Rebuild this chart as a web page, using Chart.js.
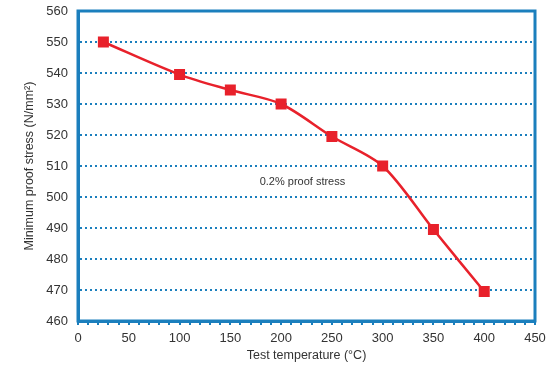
<!DOCTYPE html>
<html>
<head>
<meta charset="utf-8">
<script src="https://cdn.jsdelivr.net/npm/chart.js@4"></script>
<style>
  html, body { margin: 0; padding: 0; background: #fff; }
  #wrap { width: 558px; height: 367px; position: relative; }
</style>
</head>
<body>
<div id="wrap"><canvas id="c"></canvas></div>
<script>
/* ---- data ---- */
const temps  = [25, 100, 150, 200, 250, 300, 350, 400];
const stress = [550, 539.5, 534.5, 530, 519.5, 510, 489.5, 469.5];
const seriesLabel = '0.2% proof stress';
const xTitle = 'Test temperature (°C)';
const yTitle = 'Minimum proof stress (N/mm²)';
const labelAt = { x: 221, y: 505 };

const BLUE = '#1b7fbd';
const RED  = '#e8212b';
const TXT  = '#333333';

// box around the plot + the in-chart label
const frame = {
  id: 'frame',
  beforeDatasetsDraw(chart) {
    const { ctx, chartArea: a } = chart;
    ctx.save();
    ctx.strokeStyle = BLUE;
    ctx.lineWidth = 3;
    ctx.strokeRect(a.left, a.top, a.right - a.left, a.bottom - a.top);
    ctx.restore();
  },
  afterDatasetsDraw(chart) {
    const { ctx, scales } = chart;
    ctx.save();
    ctx.fillStyle = TXT;
    ctx.font = '11px "Liberation Sans", Arial, sans-serif';
    ctx.textAlign = 'center';
    ctx.textBaseline = 'middle';
    ctx.fillText(seriesLabel, scales.x.getPixelForValue(labelAt.x), scales.y.getPixelForValue(labelAt.y));
    ctx.restore();
  }
};

new Chart(document.getElementById('c'), {
  type: 'line',
  data: {
    datasets: [{
      label: seriesLabel,
      data: temps.map((t, i) => ({ x: t, y: stress[i] })),
      borderColor: RED,
      backgroundColor: RED,
      borderWidth: 2.5,
      pointStyle: 'rect',
      pointRadius: 6,
      pointHoverRadius: 6,
      tension: 0.3
    }]
  },
  options: {
    responsive: true,
    maintainAspectRatio: false,
    animation: false,
    layout: { padding: { top: 11, right: 23, left: 0, bottom: 0 } },
    plugins: { legend: { display: false }, tooltip: { enabled: false } },
    scales: {
      x: {
        type: 'linear', min: 0, max: 450,
        afterFit: (s) => { s.height = 46; s.paddingLeft = 0; s.paddingRight = 0; },
        ticks: {
          stepSize: 10, autoSkip: false, maxRotation: 0,
          color: TXT, padding: 6,
          font: { family: '"Liberation Sans", Arial, sans-serif', size: 13 },
          callback: (v) => (v % 50 === 0 ? String(v) : '')
        },
        grid: { drawOnChartArea: false, drawTicks: true, tickLength: 4, color: BLUE, lineWidth: 2 },
        border: { color: BLUE, width: 3 },
        title: {
          display: true, text: xTitle, color: TXT, padding: { top: 2, bottom: 4 },
          font: { family: '"Liberation Sans", Arial, sans-serif', size: 12.5 }
        }
      },
      y: {
        type: 'linear', min: 460, max: 560,
        afterFit: (s) => { s.width = 78; s.paddingTop = 0; s.paddingBottom = 0; },
        ticks: {
          stepSize: 10, color: TXT, padding: 10,
          font: { family: '"Liberation Sans", Arial, sans-serif', size: 13 }
        },
        grid: {
          color: (c) => (c.tick && (c.tick.value === 460 || c.tick.value === 560) ? 'rgba(0,0,0,0)' : BLUE),
          lineWidth: 2, drawTicks: false
        },
        border: { color: BLUE, width: 3, dash: [2, 3] },
        title: {
          display: true, text: yTitle, color: TXT, padding: { top: 22, bottom: 0 },
          font: { family: '"Liberation Sans", Arial, sans-serif', size: 12.5 }
        }
      }
    }
  },
  plugins: [frame]
});
</script>
</body>
</html>
